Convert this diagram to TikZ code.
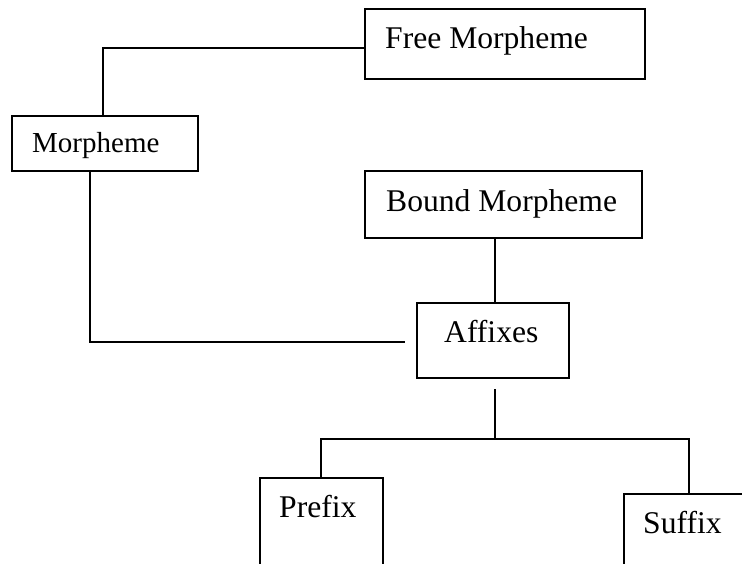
\documentclass[tikz,border=0pt]{standalone}
\usepackage{fontspec}
\setmainfont{Liberation Serif}
\begin{document}
\begin{tikzpicture}[x=1pt,y=-1pt,
  boxnode/.style={draw, line width=1.8pt, rectangle, inner sep=0pt, anchor=north west},
  lbl/.style={anchor=base west, inner sep=0pt, font=\fontsize{31.6}{36}\selectfont},
  lblsmall/.style={anchor=base west, inner sep=0pt, font=\fontsize{29}{34}\selectfont},
  conn/.style={line width=1.8pt}]
\useasboundingbox (0,0) rectangle (742,563);
% boxes
\node[boxnode, minimum width=280pt, minimum height=70pt] (free) at (364,8) {};
\node[boxnode, minimum width=186pt, minimum height=55pt] (morph) at (11,115) {};
\node[boxnode, minimum width=277pt, minimum height=67pt] (bound) at (364,170) {};
\node[boxnode, minimum width=152pt, minimum height=75pt] (aff) at (416,302) {};
\node[boxnode, minimum width=123pt, minimum height=130pt] (prefix) at (259,477) {};
\node[boxnode, minimum width=150pt, minimum height=120pt] (suffix) at (623,493) {};
% texts
\node[lbl] (tfree) at (385,48) {Free Morpheme};
\node[lblsmall] (tmorph) at (32,152) {Morpheme};
\node[lbl] (tbound) at (386,211) {Bound Morpheme};
\node[lbl] (taff) at (444,342) {Affixes};
\node[lbl] (tprefix) at (279,517) {Prefix};
\node[lbl] (tsuffix) at (643,533) {Suffix};
% connector coordinates
\coordinate (c1) at (103,48);
\coordinate (c2) at (90,342);
\coordinate (c2e) at (405,342);
\coordinate (c3) at (495,0);
\coordinate (c4a) at (495,389);
\coordinate (c4) at (495,439);
\coordinate (cl) at (321,439);
\coordinate (cr) at (689,439);
% connectors
\draw[conn] (c1 -| free.west) -- (c1) -- (c1 |- morph.north);
\draw[conn] (c2 |- morph.south) -- (c2) -- (c2e);
\draw[conn] (c3 |- bound.south) -- (c3 |- aff.north);
\draw[conn] (c4a) -- (c4);
\draw[conn] (cl |- prefix.north) -- (cl) -- (cr) -- (cr |- suffix.north);
\end{tikzpicture}
\end{document}
